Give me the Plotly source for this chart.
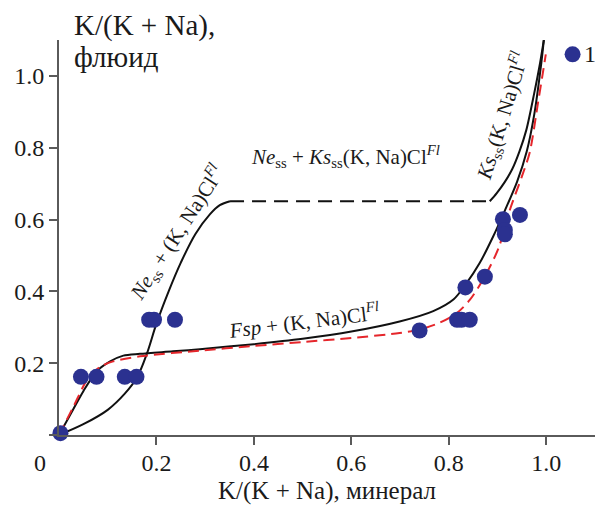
import plotly.graph_objects as go

# Measured compositions: K/(K+Na) in mineral vs. in fluid
pts_x = [0.003, 0.045, 0.077, 0.135, 0.159, 0.185, 0.195, 0.238,
         0.740, 0.817, 0.826, 0.843, 0.834, 0.874, 0.911, 0.915, 0.915, 0.946, 1.054]
pts_y = [0.005, 0.162, 0.162, 0.162, 0.162, 0.321, 0.321, 0.321,
         0.291, 0.321, 0.321, 0.321, 0.411, 0.441, 0.601, 0.571, 0.559, 0.613, 1.060]

# Ne_ss + (K, Na)Cl fluid boundary
ne_x = [0.0, 0.05, 0.10, 0.135, 0.16, 0.18, 0.20, 0.225, 0.25, 0.28, 0.31, 0.33, 0.351]
ne_y = [0.0, 0.03, 0.07, 0.115, 0.16, 0.225, 0.31, 0.40, 0.48, 0.56, 0.615, 0.64, 0.651]

# Ne_ss + Ks_ss three-phase tie line
tie_x = [0.351, 0.884]
tie_y = [0.651, 0.651]

# Ks_ss + (K, Na)Cl fluid boundary
ks_x = [0.884, 0.898, 0.915, 0.93, 0.945, 0.959, 0.975, 0.987, 0.995]
ks_y = [0.651, 0.673, 0.705, 0.74, 0.79, 0.849, 0.95, 1.034, 1.10]

# Fsp + (K, Na)Cl fluid boundary
fsp_x = [0.0, 0.029, 0.05, 0.077, 0.105, 0.132, 0.166, 0.234, 0.289, 0.4, 0.5, 0.6, 0.699,
         0.768, 0.81, 0.835, 0.863, 0.89, 0.915, 0.94, 0.96, 0.975, 0.99, 0.995]
fsp_y = [0.0, 0.071, 0.122, 0.177, 0.205, 0.221, 0.226, 0.233, 0.239, 0.253, 0.268, 0.288, 0.316,
         0.345, 0.378, 0.42, 0.478, 0.55, 0.625, 0.705, 0.79, 0.89, 1.038, 1.10]

# Model curve (red dashed)
mod_x = [0.0, 0.03, 0.06, 0.085, 0.111, 0.166, 0.289, 0.4, 0.5, 0.6, 0.699, 0.739, 0.78,
         0.816, 0.843, 0.87, 0.902, 0.925, 0.95, 0.966, 0.983, 0.992, 0.999]
mod_y = [0.0, 0.08, 0.159, 0.19, 0.205, 0.219, 0.235, 0.248, 0.259, 0.27, 0.284, 0.293, 0.312,
         0.339, 0.376, 0.432, 0.52, 0.626, 0.72, 0.787, 0.925, 1.0, 1.06]

tick_vals = [0, 0.2, 0.4, 0.6, 0.8, 1.0]
tick_text = ["", "0.2", "0.4", "0.6", "0.8", "1.0"]

FONT = "Liberation Serif"
INK = "#1a1a1a"
AXIS = "#5a5a5a"

fig = go.Figure()

black = dict(color="#111111", width=2)
fig.add_trace(go.Scatter(x=ne_x, y=ne_y, mode="lines", line=dict(**black, shape="spline", smoothing=1.0),
                         cliponaxis=False, hoverinfo="skip"))
fig.add_trace(go.Scatter(x=tie_x, y=tie_y, mode="lines", line=dict(color="#111111", width=2, dash="14px,8px"),
                         cliponaxis=False, hoverinfo="skip"))
fig.add_trace(go.Scatter(x=ks_x, y=ks_y, mode="lines", line=dict(**black, shape="spline", smoothing=0.8),
                         cliponaxis=False, hoverinfo="skip"))
fig.add_trace(go.Scatter(x=fsp_x, y=fsp_y, mode="lines", line=dict(**black, shape="spline", smoothing=0.8),
                         cliponaxis=False, hoverinfo="skip"))
fig.add_trace(go.Scatter(x=mod_x, y=mod_y, mode="lines",
                         line=dict(color="#e5262b", width=2, dash="11px,6px", shape="spline", smoothing=0.8),
                         cliponaxis=False, hoverinfo="skip"))
fig.add_trace(go.Scatter(x=pts_x, y=pts_y, mode="markers",
                         marker=dict(color="#2b3190", size=16, line=dict(width=0)),
                         cliponaxis=False, hoverinfo="skip"))

ann_font = dict(family=FONT, size=21, color=INK)
tick_font = dict(family=FONT, size=24, color=INK)
ytitle_font = dict(family=FONT, size=29, color=INK)
xtitle_font = dict(family=FONT, size=25, color=INK)

annotations = [
    dict(x=0, y=1, xref="paper", yref="paper", xanchor="left", yanchor="middle",
         xshift=13, yshift=15, text="K/(K + Na),", showarrow=False, font=ytitle_font),
    dict(x=0, y=1, xref="paper", yref="paper", xanchor="left", yanchor="middle",
         xshift=13, yshift=-17, text="флюид", showarrow=False, font=ytitle_font),
    dict(x=0.5, y=0, xref="paper", yref="paper", xanchor="center", yanchor="middle",
         yshift=-56, text="K/(K + Na), минерал", showarrow=False, font=xtitle_font),
    dict(x=0, y=0, xref="paper", yref="paper", xanchor="center", yanchor="middle",
         xshift=-19, yshift=-28, text="0", showarrow=False, font=tick_font),
    dict(x=1.054, y=1.06, xanchor="left", yanchor="middle", xshift=9,
         text="1", showarrow=False, font=tick_font),
    dict(x=0.588, y=0.775, xanchor="center", yanchor="middle",
         text="<i>Ne</i><sub>ss</sub> + <i>Ks</i><sub>ss</sub>(K, Na)Cl<sup><i>Fl</i></sup>",
         showarrow=False, font=ann_font),
    dict(x=0.242, y=0.565, xanchor="center", yanchor="middle", textangle=-57,
         text="<i>Ne</i><sub>ss</sub> + (K, Na)Cl<sup><i>Fl</i></sup>",
         showarrow=False, font=ann_font),
    dict(x=0.91, y=0.89, xanchor="center", yanchor="middle", textangle=-73,
         text="<i>Ks</i><sub>ss</sub>(K, Na)Cl<sup><i>Fl</i></sup>",
         showarrow=False, font=ann_font),
    dict(x=0.503, y=0.32, xanchor="center", yanchor="middle", textangle=-7,
         text="<i>Fsp</i> + (K, Na)Cl<sup><i>Fl</i></sup>",
         showarrow=False, font=ann_font),
]

axis_common = dict(
    range=[0, 1.1], showgrid=False, zeroline=False, showline=True,
    linecolor=AXIS, linewidth=2, ticks="outside", ticklen=8, tickwidth=2,
    tickcolor=AXIS, tickfont=tick_font, fixedrange=True,
)

fig.update_layout(
    width=595, height=505,
    margin=dict(l=59, r=0, t=40, b=70),
    paper_bgcolor="white", plot_bgcolor="white",
    showlegend=False,
    xaxis=dict(**axis_common, tickvals=tick_vals[1:], ticktext=tick_text[1:], ticklabelstandoff=-3),
    yaxis=dict(**axis_common, tickvals=tick_vals, ticktext=tick_text),
    annotations=annotations,
)

fig.write_html("out.html")
